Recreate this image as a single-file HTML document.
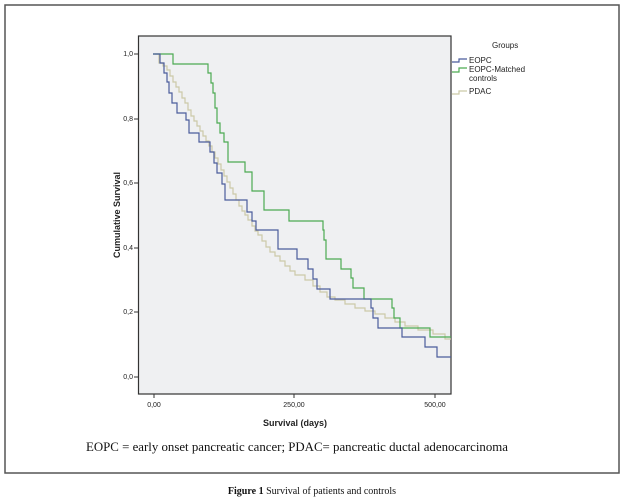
<!DOCTYPE html>
<html><head><meta charset="utf-8"><style>
body{margin:0;background:#fff;width:624px;height:502px;overflow:hidden}
svg{position:absolute;left:0;top:0}
</style></head><body>
<svg width="624" height="502" viewBox="0 0 624 502" font-family="Liberation Sans, sans-serif">
<rect x="5" y="5" width="614" height="468" fill="#fff" stroke="#555" stroke-width="1.5"/>
<rect x="138.5" y="36" width="312.5" height="358" fill="#eff0f2" stroke="#333" stroke-width="1.2"/>
<g font-size="7" fill="#222" text-anchor="end">
<text x="133" y="56">1,0</text><text x="133" y="121">0,8</text><text x="133" y="185">0,6</text>
<text x="133" y="250">0,4</text><text x="133" y="314">0,2</text><text x="133" y="379">0,0</text>
</g>
<g stroke="#333" stroke-width="1">
<line x1="134" y1="54" x2="138" y2="54"/><line x1="134" y1="119" x2="138" y2="119"/><line x1="134" y1="183" x2="138" y2="183"/>
<line x1="134" y1="248" x2="138" y2="248"/><line x1="134" y1="312" x2="138" y2="312"/><line x1="134" y1="377" x2="138" y2="377"/>
<line x1="154" y1="394" x2="154" y2="398"/><line x1="294" y1="394" x2="294" y2="398"/><line x1="435" y1="394" x2="435" y2="398"/>
</g>
<g font-size="7" fill="#222" text-anchor="middle">
<text x="154" y="407">0,00</text><text x="294" y="407">250,00</text><text x="435" y="407">500,00</text>
</g>
<text x="295" y="426" font-size="9" font-weight="bold" text-anchor="middle" fill="#222">Survival (days)</text>
<text transform="translate(120,215) rotate(-90)" font-size="9" font-weight="bold" text-anchor="middle" fill="#222">Cumulative Survival</text>
<path fill="none" stroke="#ccc9a8" stroke-width="1.2" d="M155,54H159V63H163V66H167V70H170V76H173V82H176V87H179V92H182V98H185V103H188V110H191V116H194V121H197V126H200V131H203V136H206V141H209V146H212V152H215V158H218V164H221V170H224V176H227V182H230V188H233V194H236V200H239V206H242V211H245V215H248V220H252V226H255V231H258V235H262V241H266V247H270V252H275V256H280V261H285V266H290V271H295V275H305V280H313V286H320V292H327V297H335V300H345V304H355V308H365V311H375V314H385V318H395V322H405V326H418V330H433V334H445V339H451"/>
<path fill="none" stroke="#4caa52" stroke-width="1.2" d="M153,54H173V64H208V73H211V83H213V93H215V108H217V123H220V133H224V142H228V162H245V172H252V191H264V210H289V221H323V230H324V240H326V259H341V269H351V278H353V288H364V299H392V308H394V318H400V328H430V337H451"/>
<path fill="none" stroke="#4b5c9c" stroke-width="1.2" d="M153,54H160V63H164V73H167V82H169V93H172V103H177V113H186V120H189V133H199V142H210V152H214V163H217V173H222V184H225V200H247V212H252V221H256V230H278V249H297V259H308V269H313V279H317V289H330V299H371V308H373V318H378V328H402V337H425V347H437V357H451"/>
<text x="492" y="48" font-size="8" fill="#222">Groups</text>
<path fill="none" stroke="#4b5c9c" stroke-width="1.2" d="M452,62H459V59H467"/>
<path fill="none" stroke="#4caa52" stroke-width="1.2" d="M452,72H459V68H467"/>
<path fill="none" stroke="#ccc9a8" stroke-width="1.2" d="M452,94H459V91H467"/>
<g font-size="8" fill="#222">
<text x="469" y="63">EOPC</text><text x="469" y="72">EOPC-Matched</text><text x="469" y="81">controls</text><text x="469" y="94">PDAC</text>
</g>
<text x="86" y="451" font-size="13" font-family="Liberation Serif, serif" fill="#111" textLength="422" lengthAdjust="spacingAndGlyphs">EOPC = early onset pancreatic cancer; PDAC= pancreatic ductal adenocarcinoma</text>
<text x="312" y="494" font-size="10" font-family="Liberation Serif, serif" fill="#111" text-anchor="middle"><tspan font-weight="bold">Figure 1</tspan> Survival of patients and controls</text>
</svg>
</body></html>
